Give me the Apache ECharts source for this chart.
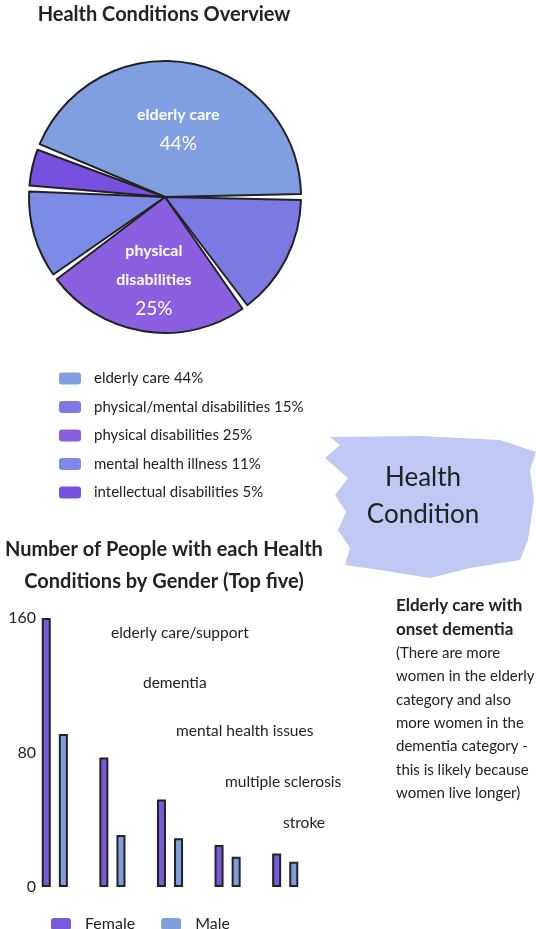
<!DOCTYPE html>
<html>
<head>
<meta charset="utf-8">
<script src="https://cdn.jsdelivr.net/npm/echarts@6/dist/echarts.min.js"></script>
<style>
html,body{margin:0;padding:0;background:#fff;}
#chart{width:536px;height:929px;}
</style>
</head>
<body>
<div id="chart"></div>
<script>
// ---- data ----
var pieNames = ['elderly care', 'physical/mental disabilities', 'physical disabilities', 'mental health illness', 'intellectual disabilities'];
var pieValues = [44, 15, 25, 11, 5];
var pieInsideLabels = ['elderly care', '', 'physical\ndisabilities', '', ''];
var pieColors = ['#7f9fe0', '#7b7ae2', '#8a5fe0', '#7c8ce6', '#7650de'];

var barCategories = ['elderly care/support', 'dementia', 'mental health issues', 'multiple sclerosis', 'stroke'];
var femaleValues = [160, 77, 52, 25, 20];
var maleValues = [91, 31, 29, 18, 15];
var yTicks = [0, 80, 160];

var noteTitle = ['Elderly care with', 'onset dementia'];
var noteBody = ['(There are more', 'women in the elderly', 'category and also', 'more women in the', 'dementia category -', 'this is likely because', 'women live longer)'];

// ---- layout ----
var FONT = 'Lato, "Open Sans", sans-serif';
var catLabelPos = [[111, 633], [143, 683], [176, 731], [225, 782], [283, 823]];

var chart = echarts.init(document.getElementById('chart'), null, {renderer: 'canvas'});

var pieData = pieNames.map(function (n, i) {
  return {
    name: n,
    value: pieValues[i],
    itemStyle: {color: pieColors[i]},
    label: {show: !!pieInsideLabels[i]}
  };
});

var graphics = [];
// brush-stroke box
graphics.push({
  type: 'polygon',
  shape: {points: [[330,437],[420,436],[500,440],[536,452],[530,470],[534,500],[528,540],[520,560],[470,568],[430,578],[380,570],[345,565],[350,548],[338,530],[346,512],[335,495],[348,478],[325,458],[340,445]]},
  style: {fill: '#c0c8f4'},
  z: 1
});
graphics.push({type: 'text', z: 2, style: {text: 'Health', x: 423, y: 478, align: 'center', verticalAlign: 'middle', font: '26px ' + FONT, fill: '#222'}});
graphics.push({type: 'text', z: 2, style: {text: 'Condition', x: 423, y: 515, align: 'center', verticalAlign: 'middle', font: '26px ' + FONT, fill: '#222'}});
noteTitle.forEach(function (t, i) {
  graphics.push({type: 'text', z: 2, style: {text: t, x: 396, y: 606 + i * 23.5, verticalAlign: 'middle', font: 'bold 17px ' + FONT, fill: '#222'}});
});
noteBody.forEach(function (t, i) {
  graphics.push({type: 'text', z: 2, style: {text: t, x: 396, y: 653 + i * 23.4, verticalAlign: 'middle', font: '15px ' + FONT, fill: '#222'}});
});
barCategories.forEach(function (c, i) {
  graphics.push({type: 'text', z: 2, style: {text: c, x: catLabelPos[i][0], y: catLabelPos[i][1], verticalAlign: 'middle', font: '15.5px ' + FONT, fill: '#222'}});
});

var option = {
  backgroundColor: '#fff',
  animation: false,
  title: [
    {text: 'Health Conditions Overview', left: 159, top: 0, textAlign: 'center',
     textStyle: {fontFamily: FONT, fontSize: 20, fontWeight: 'bold', color: '#222'}},
    {text: 'Number of People with each Health\nConditions by Gender (Top five)', left: 159, top: 529, textAlign: 'center',
     textStyle: {fontFamily: FONT, fontSize: 20, fontWeight: 'bold', color: '#222', lineHeight: 32}}
  ],
  legend: [
    {
      data: pieNames, orient: 'vertical', left: 54, top: 366, itemGap: 13.5,
      itemWidth: 22, itemHeight: 12, icon: 'roundRect',
      itemStyle: {borderWidth: 0},
      textStyle: {fontFamily: FONT, fontSize: 15, color: '#222', padding: [0, 0, 0, 8]},
      formatter: function (name) { return name + ' ' + pieValues[pieNames.indexOf(name)] + '%'; }
    },
    {
      data: ['Female', 'Male'], orient: 'horizontal', left: 46, top: 911, itemGap: 26,
      itemWidth: 20, itemHeight: 12, icon: 'roundRect',
      itemStyle: {borderWidth: 0},
      textStyle: {fontFamily: FONT, fontSize: 16, color: '#222', padding: [0, 0, 0, 9]}
    }
  ],
  grid: {left: 26, top: 618, width: 288, height: 269, containLabel: false},
  xAxis: {
    type: 'category', data: barCategories,
    axisLine: {show: false}, axisTick: {show: false}, axisLabel: {show: false}
  },
  yAxis: {
    type: 'value', min: 0, max: 160, interval: 80,
    axisLine: {show: false}, axisTick: {show: false}, splitLine: {show: false},
    axisLabel: {margin: -10, fontFamily: FONT, fontSize: 16, color: '#222',
      formatter: function (v) { return yTicks.indexOf(v) >= 0 ? String(v) : ''; }}
  },
  series: [
    {
      type: 'pie', name: 'Health Conditions',
      center: [165, 197], radius: [0, 136],
      startAngle: 158.4, clockwise: true, padAngle: 2.5,
      itemStyle: {borderColor: '#222', borderWidth: 2},
      data: pieData,
      label: {
        position: 'inside', color: '#fff',
        formatter: function (p) { return '{n|' + pieInsideLabels[p.dataIndex].split('\n').join('}\n{n|') + '}\n{p|' + p.value + '%}'; },
        rich: {
          n: {fontFamily: FONT, fontSize: 16, fontWeight: 'bold', color: '#fff', lineHeight: 29},
          p: {fontFamily: FONT, fontSize: 19, color: '#fff', lineHeight: 29}
        }
      },
      labelLine: {show: false},
      labelLayout: function (p) { return p.dataIndex === 2 ? {dy: 13} : {dy: 2}; },
      emphasis: {disabled: true}
    },
    {
      type: 'bar', name: 'Female', data: femaleValues, barWidth: 9, barGap: '90%',
      itemStyle: {color: '#7a5ad8', borderColor: '#222', borderWidth: 2}
    },
    {
      type: 'bar', name: 'Male', data: maleValues, barWidth: 9,
      itemStyle: {color: '#7f9fdc', borderColor: '#222', borderWidth: 2}
    }
  ],
  graphic: graphics
};
chart.setOption(option);
</script>
</body>
</html>
